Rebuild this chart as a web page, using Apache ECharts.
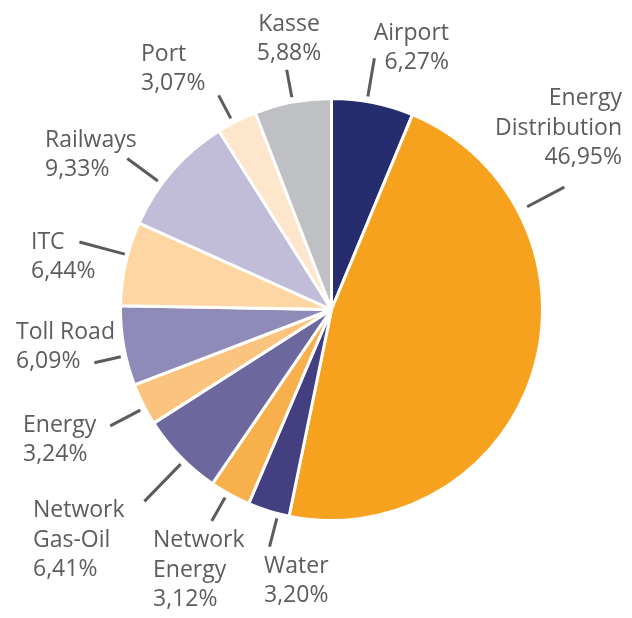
<!DOCTYPE html>
<html>
<head>
<meta charset="utf-8">
<script src="https://cdn.jsdelivr.net/npm/echarts@6/dist/echarts.min.js"></script>
<style>
  html, body { margin: 0; padding: 0; background: #fff; }
  #chart { width: 632px; height: 618px; }
</style>
</head>
<body>
<div id="chart"></div>
<script>
// slices, clockwise from 12 o'clock
const names = ["Airport", "Energy\nDistribution", "Water", "Network\nEnergy", "Network\nGas-Oil",
  "Energy", "Toll Road", "ITC", "Railways", "Port", "Kasse"];
const shares = [6.27, 46.95, 3.20, 3.12, 6.41, 3.24, 6.09, 6.44, 9.33, 3.07, 5.88];
const colors = ["#262d6f", "#f6a21e", "#433f80", "#f8b04c", "#6c689e",
  "#fbc47e", "#8f8bb9", "#fdd6a3", "#c1bdd8", "#fde6cb", "#bec0c3"];

// hand placed labels: text anchor, and the tick's turn off the slice middle (deg) and length
const spots = [
  { x: 449, y: 48, align: "right", turn: -1.6, len: 39 },
  { x: 622, y: 128, align: "right", turn: -44.8, len: 42, r0: 221 },
  { x: 264, y: 581, align: "left", turn: -2.7, len: 29 },
  { x: 153, y: 570, align: "left", turn: 0.8, len: 27 },
  { x: 33, y: 540, align: "left", turn: -1.6, len: 52 },
  { x: 23, y: 440, align: "left", turn: -1, len: 34 },
  { x: 16, y: 347, align: "left", turn: -2.7, len: 27 },
  { x: 31, y: 257, align: "left", turn: 2.4, len: 47, r0: 214 },
  { x: 45, y: 155, align: "left", turn: -4.5, len: 38 },
  { x: 141, y: 69, align: "left", turn: -1.1, len: 26 },
  { x: 289, y: 39, align: "center", turn: 0, len: 28 }
];

const cx = 331.5, cy = 309.5;
const total = shares.reduce((a, b) => a + b, 0);
const mids = [];
let acc = 0;
for (const v of shares) {
  mids.push(((acc + v / 2) / total) * 360);
  acc += v;
}

function tick(i) {
  const s = spots[i];
  const a = ((mids[i] + s.turn) * Math.PI) / 180;
  const r0 = s.r0 || 216;
  const r1 = r0 + s.len;
  return [
    [cx + r0 * Math.sin(a), cy - r0 * Math.cos(a)],
    [cx + r1 * Math.sin(a), cy - r1 * Math.cos(a)]
  ];
}

const chart = echarts.init(document.getElementById("chart"), null, { renderer: "canvas" });

chart.setOption({
  backgroundColor: "#fff",
  animation: false,
  series: [
    {
      type: "pie",
      center: [cx, cy],
      radius: 211,
      startAngle: 90,
      clockwise: true,
      avoidLabelOverlap: false,
      silent: true,
      data: names.map((n, i) => ({
        name: n,
        value: shares[i],
        itemStyle: { color: colors[i] }
      })),
      itemStyle: { borderColor: "#fff", borderWidth: 3 },
      label: {
        show: true,
        position: "outside",
        overflow: "none",
        color: "#5c5c5c",
        fontFamily: "Open Sans",
        fontSize: 23,
        lineHeight: 29.5,
        formatter: (p) => p.name + "\n" + p.value.toFixed(2).replace(".", ",") + "%"
      },
      labelLine: {
        show: true,
        length: 20,
        length2: 0,
        lineStyle: { color: "#5c5c5c", width: 3 }
      },
      labelLayout: (p) => {
        const s = spots[p.dataIndex];
        return {
          x: s.x,
          y: s.y,
          align: s.align,
          verticalAlign: "middle",
          labelLinePoints: tick(p.dataIndex)
        };
      },
      emphasis: { disabled: true }
    }
  ]
});
</script>
</body>
</html>
